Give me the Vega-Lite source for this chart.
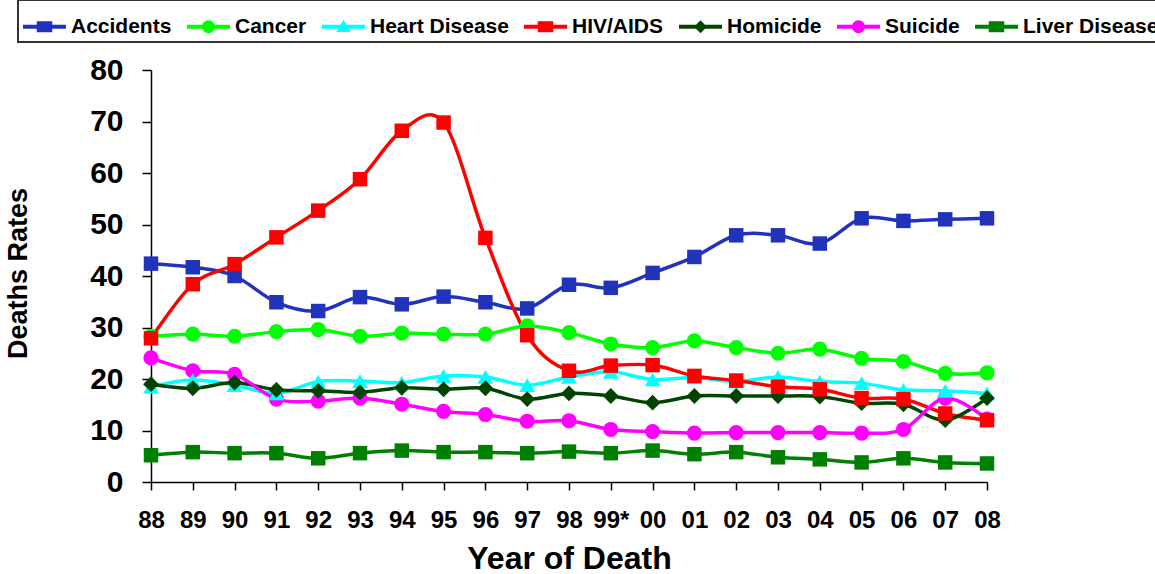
{
  "$schema": "https://vega.github.io/schema/vega-lite/v6.json",
  "width": 836,
  "height": 412,
  "autosize": {"type": "none"},
  "padding": {"left": 151, "top": 70, "right": 168, "bottom": 92},
  "background": "white",
  "config": {
    "view": {"stroke": null},
    "font": "Liberation Sans"
  },
  "data": {
    "values": [
      {"year": "88", "series": "Accidents", "value": 42.4},
      {"year": "89", "series": "Accidents", "value": 41.7},
      {"year": "90", "series": "Accidents", "value": 40.0},
      {"year": "91", "series": "Accidents", "value": 34.9},
      {"year": "92", "series": "Accidents", "value": 33.2},
      {"year": "93", "series": "Accidents", "value": 35.9},
      {"year": "94", "series": "Accidents", "value": 34.5},
      {"year": "95", "series": "Accidents", "value": 36.0},
      {"year": "96", "series": "Accidents", "value": 34.9},
      {"year": "97", "series": "Accidents", "value": 33.7},
      {"year": "98", "series": "Accidents", "value": 38.3},
      {"year": "99*", "series": "Accidents", "value": 37.7},
      {"year": "00", "series": "Accidents", "value": 40.6},
      {"year": "01", "series": "Accidents", "value": 43.7},
      {"year": "02", "series": "Accidents", "value": 47.9},
      {"year": "03", "series": "Accidents", "value": 47.9},
      {"year": "04", "series": "Accidents", "value": 46.3},
      {"year": "05", "series": "Accidents", "value": 51.2},
      {"year": "06", "series": "Accidents", "value": 50.7},
      {"year": "07", "series": "Accidents", "value": 51.0},
      {"year": "08", "series": "Accidents", "value": 51.2},
      {"year": "88", "series": "Cancer", "value": 28.3},
      {"year": "89", "series": "Cancer", "value": 28.7},
      {"year": "90", "series": "Cancer", "value": 28.3},
      {"year": "91", "series": "Cancer", "value": 29.2},
      {"year": "92", "series": "Cancer", "value": 29.6},
      {"year": "93", "series": "Cancer", "value": 28.3},
      {"year": "94", "series": "Cancer", "value": 28.9},
      {"year": "95", "series": "Cancer", "value": 28.7},
      {"year": "96", "series": "Cancer", "value": 28.7},
      {"year": "97", "series": "Cancer", "value": 30.3},
      {"year": "98", "series": "Cancer", "value": 29.0},
      {"year": "99*", "series": "Cancer", "value": 26.8},
      {"year": "00", "series": "Cancer", "value": 26.1},
      {"year": "01", "series": "Cancer", "value": 27.4},
      {"year": "02", "series": "Cancer", "value": 26.1},
      {"year": "03", "series": "Cancer", "value": 25.0},
      {"year": "04", "series": "Cancer", "value": 25.8},
      {"year": "05", "series": "Cancer", "value": 24.0},
      {"year": "06", "series": "Cancer", "value": 23.4},
      {"year": "07", "series": "Cancer", "value": 21.1},
      {"year": "08", "series": "Cancer", "value": 21.2},
      {"year": "88", "series": "Heart Disease", "value": 18.5},
      {"year": "89", "series": "Heart Disease", "value": 19.8},
      {"year": "90", "series": "Heart Disease", "value": 18.8},
      {"year": "91", "series": "Heart Disease", "value": 17.2},
      {"year": "92", "series": "Heart Disease", "value": 19.5},
      {"year": "93", "series": "Heart Disease", "value": 19.6},
      {"year": "94", "series": "Heart Disease", "value": 19.3},
      {"year": "95", "series": "Heart Disease", "value": 20.6},
      {"year": "96", "series": "Heart Disease", "value": 20.4},
      {"year": "97", "series": "Heart Disease", "value": 18.8},
      {"year": "98", "series": "Heart Disease", "value": 20.4},
      {"year": "99*", "series": "Heart Disease", "value": 21.4},
      {"year": "00", "series": "Heart Disease", "value": 19.9},
      {"year": "01", "series": "Heart Disease", "value": 20.3},
      {"year": "02", "series": "Heart Disease", "value": 19.5},
      {"year": "03", "series": "Heart Disease", "value": 20.4},
      {"year": "04", "series": "Heart Disease", "value": 19.5},
      {"year": "05", "series": "Heart Disease", "value": 19.2},
      {"year": "06", "series": "Heart Disease", "value": 17.9},
      {"year": "07", "series": "Heart Disease", "value": 17.7},
      {"year": "08", "series": "Heart Disease", "value": 17.2},
      {"year": "88", "series": "HIV/AIDS", "value": 27.9},
      {"year": "89", "series": "HIV/AIDS", "value": 38.4},
      {"year": "90", "series": "HIV/AIDS", "value": 42.3},
      {"year": "91", "series": "HIV/AIDS", "value": 47.5},
      {"year": "92", "series": "HIV/AIDS", "value": 52.7},
      {"year": "93", "series": "HIV/AIDS", "value": 58.8},
      {"year": "94", "series": "HIV/AIDS", "value": 68.2},
      {"year": "95", "series": "HIV/AIDS", "value": 69.8},
      {"year": "96", "series": "HIV/AIDS", "value": 47.4},
      {"year": "97", "series": "HIV/AIDS", "value": 28.5},
      {"year": "98", "series": "HIV/AIDS", "value": 21.6},
      {"year": "99*", "series": "HIV/AIDS", "value": 22.6},
      {"year": "00", "series": "HIV/AIDS", "value": 22.7},
      {"year": "01", "series": "HIV/AIDS", "value": 20.6},
      {"year": "02", "series": "HIV/AIDS", "value": 19.7},
      {"year": "03", "series": "HIV/AIDS", "value": 18.5},
      {"year": "04", "series": "HIV/AIDS", "value": 18.0},
      {"year": "05", "series": "HIV/AIDS", "value": 16.3},
      {"year": "06", "series": "HIV/AIDS", "value": 16.1},
      {"year": "07", "series": "HIV/AIDS", "value": 13.3},
      {"year": "08", "series": "HIV/AIDS", "value": 12.0},
      {"year": "88", "series": "Homicide", "value": 19.0},
      {"year": "89", "series": "Homicide", "value": 18.2},
      {"year": "90", "series": "Homicide", "value": 19.3},
      {"year": "91", "series": "Homicide", "value": 17.9},
      {"year": "92", "series": "Homicide", "value": 17.7},
      {"year": "93", "series": "Homicide", "value": 17.4},
      {"year": "94", "series": "Homicide", "value": 18.3},
      {"year": "95", "series": "Homicide", "value": 18.0},
      {"year": "96", "series": "Homicide", "value": 18.2},
      {"year": "97", "series": "Homicide", "value": 16.1},
      {"year": "98", "series": "Homicide", "value": 17.2},
      {"year": "99*", "series": "Homicide", "value": 16.7},
      {"year": "00", "series": "Homicide", "value": 15.4},
      {"year": "01", "series": "Homicide", "value": 16.7},
      {"year": "02", "series": "Homicide", "value": 16.7},
      {"year": "03", "series": "Homicide", "value": 16.7},
      {"year": "04", "series": "Homicide", "value": 16.6},
      {"year": "05", "series": "Homicide", "value": 15.3},
      {"year": "06", "series": "Homicide", "value": 15.1},
      {"year": "07", "series": "Homicide", "value": 12.0},
      {"year": "08", "series": "Homicide", "value": 16.3},
      {"year": "88", "series": "Suicide", "value": 24.1},
      {"year": "89", "series": "Suicide", "value": 21.6},
      {"year": "90", "series": "Suicide", "value": 20.9},
      {"year": "91", "series": "Suicide", "value": 16.1},
      {"year": "92", "series": "Suicide", "value": 15.7},
      {"year": "93", "series": "Suicide", "value": 16.3},
      {"year": "94", "series": "Suicide", "value": 15.1},
      {"year": "95", "series": "Suicide", "value": 13.7},
      {"year": "96", "series": "Suicide", "value": 13.1},
      {"year": "97", "series": "Suicide", "value": 11.8},
      {"year": "98", "series": "Suicide", "value": 11.9},
      {"year": "99*", "series": "Suicide", "value": 10.2},
      {"year": "00", "series": "Suicide", "value": 9.8},
      {"year": "01", "series": "Suicide", "value": 9.5},
      {"year": "02", "series": "Suicide", "value": 9.6},
      {"year": "03", "series": "Suicide", "value": 9.6},
      {"year": "04", "series": "Suicide", "value": 9.6},
      {"year": "05", "series": "Suicide", "value": 9.5},
      {"year": "06", "series": "Suicide", "value": 10.2},
      {"year": "07", "series": "Suicide", "value": 16.3},
      {"year": "08", "series": "Suicide", "value": 12.2},
      {"year": "88", "series": "Liver Disease", "value": 5.2},
      {"year": "89", "series": "Liver Disease", "value": 5.8},
      {"year": "90", "series": "Liver Disease", "value": 5.6},
      {"year": "91", "series": "Liver Disease", "value": 5.6},
      {"year": "92", "series": "Liver Disease", "value": 4.6},
      {"year": "93", "series": "Liver Disease", "value": 5.6},
      {"year": "94", "series": "Liver Disease", "value": 6.1},
      {"year": "95", "series": "Liver Disease", "value": 5.8},
      {"year": "96", "series": "Liver Disease", "value": 5.8},
      {"year": "97", "series": "Liver Disease", "value": 5.6},
      {"year": "98", "series": "Liver Disease", "value": 5.9},
      {"year": "99*", "series": "Liver Disease", "value": 5.6},
      {"year": "00", "series": "Liver Disease", "value": 6.1},
      {"year": "01", "series": "Liver Disease", "value": 5.4},
      {"year": "02", "series": "Liver Disease", "value": 5.8},
      {"year": "03", "series": "Liver Disease", "value": 4.8},
      {"year": "04", "series": "Liver Disease", "value": 4.4},
      {"year": "05", "series": "Liver Disease", "value": 3.8},
      {"year": "06", "series": "Liver Disease", "value": 4.6},
      {"year": "07", "series": "Liver Disease", "value": 3.8},
      {"year": "08", "series": "Liver Disease", "value": 3.6}
    ]
  },
  "encoding": {
    "x": {
      "field": "year",
      "type": "ordinal",
      "scale": {
        "type": "point",
        "padding": 0,
        "domain": ["88", "89", "90", "91", "92", "93", "94", "95", "96", "97", "98", "99*", "00", "01", "02", "03", "04", "05", "06", "07", "08"]
      },
      "axis": {
        "title": "Year of Death",
        "titleFont": "Liberation Sans",
        "titleFontSize": 32,
        "titleFontWeight": "bold",
        "titleColor": "black",
        "titleBaseline": "alphabetic",
        "titleY": 86,
        "labelFont": "Liberation Sans",
        "labelFontSize": 24,
        "labelFontWeight": "bold",
        "labelColor": "black",
        "labelAngle": 0,
        "labelPadding": 18,
        "labelOverlap": false,
        "tickSize": 8,
        "tickWidth": 1.5,
        "tickColor": "black",
        "domainColor": "black",
        "domainWidth": 1.5,
        "grid": false
      }
    },
    "y": {
      "field": "value",
      "type": "quantitative",
      "scale": {"domain": [0, 80], "nice": false},
      "axis": {
        "title": "Deaths Rates",
        "titleFont": "Liberation Sans",
        "titleFontSize": 27,
        "titleFontWeight": "bold",
        "titleColor": "black",
        "titleAngle": -90,
        "titleAlign": "center",
        "titleBaseline": "alphabetic",
        "titleX": -125,
        "titleY": 203,
        "values": [0, 10, 20, 30, 40, 50, 60, 70, 80],
        "labelFont": "Liberation Sans",
        "labelFontSize": 30,
        "labelFontWeight": "bold",
        "labelColor": "black",
        "labelPadding": 19,
        "tickSize": 9,
        "tickWidth": 1.5,
        "tickColor": "black",
        "domainColor": "black",
        "domainWidth": 1.5,
        "grid": false
      }
    }
  },
  "layer": [
    {
      "mark": {"type": "point", "filled": true, "size": 190},
      "encoding": {
        "opacity": {"value": 0},
        "color": {
          "field": "series",
          "type": "nominal",
          "scale": {
            "domain": ["Accidents", "Cancer", "Heart Disease", "HIV/AIDS", "Homicide", "Suicide", "Liver Disease"],
            "range": ["#2233BB", "#00FF00", "#00FFFF", "#FF0000", "#004400", "#FF00FF", "#008000"]
          },
          "legend": {
            "title": null,
            "orient": "none",
            "direction": "horizontal",
            "legendX": -133,
            "legendY": -70,
            "padding": 5,
            "strokeColor": "#333333",
            "fillColor": "white",
            "labelFont": "Liberation Sans",
            "labelFontSize": 21,
            "labelFontWeight": "bold",
            "labelColor": "black",
            "labelOffset": 5,
            "labelLimit": 400,
            "columnPadding": 15,
            "symbolSize": 1849,
            "symbolStrokeWidth": 0,
            "symbolOpacity": 1,
            "encode": {"legend": {"update": {"strokeWidth": {"value": 2}}}}
          }
        },
        "shape": {
          "field": "series",
          "type": "nominal",
          "legend": {
            "title": null,
            "orient": "none",
            "direction": "horizontal",
            "legendX": -133,
            "legendY": -70,
            "padding": 5,
            "strokeColor": "#333333",
            "fillColor": "white",
            "labelFont": "Liberation Sans",
            "labelFontSize": 21,
            "labelFontWeight": "bold",
            "labelColor": "black",
            "labelOffset": 5,
            "labelLimit": 400,
            "columnPadding": 15,
            "symbolSize": 1849,
            "symbolStrokeWidth": 0,
            "symbolOpacity": 1,
            "encode": {"legend": {"update": {"strokeWidth": {"value": 2}}}}
          },
          "scale": {
            "domain": ["Accidents", "Cancer", "Heart Disease", "HIV/AIDS", "Homicide", "Suicide", "Liver Disease"],
            "range": [
              "M-1,-0.09L1,-0.09L1,0.09L-1,0.09Z M-0.36,-0.26L0.36,-0.26L0.36,0.26L-0.36,0.26Z",
              "M-1,-0.09L1,-0.09L1,0.09L-1,0.09Z M-0.3,0A0.3,0.3 0 1,1 0.3,0A0.3,0.3 0 1,1 -0.3,0Z",
              "M-1,-0.09L1,-0.09L1,0.09L-1,0.09Z M0,-0.32L0.34,0.24L-0.34,0.24Z",
              "M-1,-0.09L1,-0.09L1,0.09L-1,0.09Z M-0.36,-0.26L0.36,-0.26L0.36,0.26L-0.36,0.26Z",
              "M-1,-0.09L1,-0.09L1,0.09L-1,0.09Z M-0.3,0L0,-0.3L0.3,0L0,0.3Z",
              "M-1,-0.09L1,-0.09L1,0.09L-1,0.09Z M-0.3,0A0.3,0.3 0 1,1 0.3,0A0.3,0.3 0 1,1 -0.3,0Z",
              "M-1,-0.09L1,-0.09L1,0.09L-1,0.09Z M-0.36,-0.26L0.36,-0.26L0.36,0.26L-0.36,0.26Z"
            ]
          }
        }
      }
    },
    {
      "mark": {"type": "line", "interpolate": "cardinal", "strokeWidth": 3.5},
      "encoding": {"color": {"field": "series", "type": "nominal", "legend": null}}
    },
    {
      "transform": [{"filter": {"field": "series", "oneOf": ["Cancer", "Suicide"]}}],
      "mark": {"type": "point", "filled": true, "opacity": 1, "size": 230, "shape": "circle"},
      "encoding": {"color": {"field": "series", "type": "nominal", "legend": null}}
    },
    {
      "transform": [{"filter": {"field": "series", "equal": "Heart Disease"}}],
      "mark": {"type": "point", "filled": true, "opacity": 1, "size": 250, "shape": "triangle-up"},
      "encoding": {"color": {"field": "series", "type": "nominal", "legend": null}}
    },
    {
      "transform": [{"filter": {"field": "series", "equal": "Homicide"}}],
      "mark": {"type": "point", "filled": true, "opacity": 1, "size": 250, "shape": "diamond"},
      "encoding": {"color": {"field": "series", "type": "nominal", "legend": null}}
    },
    {
      "transform": [{"filter": {"field": "series", "oneOf": ["Accidents", "HIV/AIDS", "Liver Disease"]}}],
      "mark": {"type": "point", "filled": true, "opacity": 1, "size": 210, "shape": "square"},
      "encoding": {"color": {"field": "series", "type": "nominal", "legend": null}}
    }
  ]
}
